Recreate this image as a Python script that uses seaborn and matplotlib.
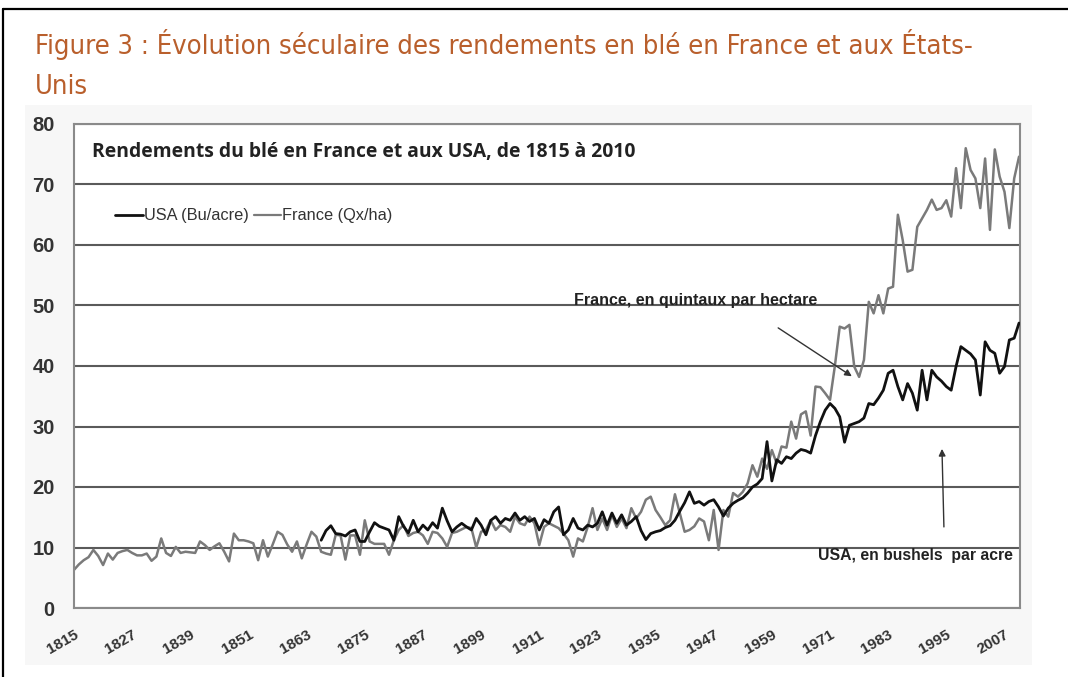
import numpy as np
import pandas as pd
import matplotlib
matplotlib.use("Agg")
import matplotlib.pyplot as plt
import seaborn as sns
from matplotlib.lines import Line2D
from matplotlib.patches import Rectangle

# ---------------- data ----------------
france_years = list(range(1815, 2011))
france_values = [
    6.3, 7.2, 7.9, 8.4, 9.6, 8.6, 7.1, 9.0, 8.0, 9.1,
    9.4, 9.6, 9.1, 8.7, 8.7, 9.0, 7.8, 8.5, 11.5, 9.1,
    8.6, 10.1, 9.1, 9.3, 9.2, 9.1, 11.0, 10.4, 9.6, 10.2,
    10.7, 9.3, 7.7, 12.3, 11.2, 11.2, 11.0, 10.7, 7.9, 11.2,
    8.5, 10.5, 12.6, 12.1, 10.5, 9.3, 11.0, 8.2, 10.5, 12.6,
    11.8, 9.3, 9.0, 8.8, 12.1, 12.0, 8.0, 12.0, 12.0, 8.8,
    14.5, 11.0, 10.6, 10.6, 10.6, 8.8, 11.2, 12.9, 13.7, 11.9,
    12.4, 12.6, 12.0, 10.6, 12.6, 12.4, 11.5, 10.1, 12.4, 12.6,
    13.0, 13.4, 13.2, 10.0, 12.6, 12.9, 14.5, 12.9, 13.7, 13.4,
    12.6, 15.1, 14.0, 13.7, 15.1, 14.0, 10.4, 13.4, 14.0, 13.6,
    13.2, 12.3, 11.2, 8.5, 11.5, 11.0, 13.4, 16.5, 12.9, 14.8,
    12.9, 15.4, 13.4, 14.8, 13.2, 16.5, 14.8, 15.9, 17.9, 18.4,
    16.2, 15.0, 13.7, 14.5, 18.8, 15.7, 12.6, 12.9, 13.5, 14.8,
    14.3, 11.2, 16.2, 9.6, 16.2, 15.1, 19.0, 18.4, 19.2, 20.6,
    23.6, 21.7, 24.7, 23.0, 26.1, 23.9, 26.7, 26.5, 30.8, 28.0,
    32.0, 32.5, 28.5, 36.6, 36.5, 35.5, 34.4, 40.0, 46.5, 46.2,
    46.8, 39.9, 38.2, 41.0, 50.6, 48.7, 51.7, 48.7, 52.8, 53.1,
    65.0, 60.8, 55.6, 55.9, 63.0, 64.4, 65.8, 67.5, 65.8, 66.1,
    67.4, 64.7, 72.7, 66.1, 76.0, 72.4, 71.0, 66.1, 74.3, 62.5,
    75.8, 71.3, 68.8, 62.8, 71.0, 74.6,
]

usa_years = list(range(1866, 2011))
usa_values = [
    11.2, 12.8, 13.6, 12.3,
    12.2, 11.9, 12.6, 12.9, 11.0, 11.0, 12.6, 14.1, 13.5, 13.2,
    12.9, 11.2, 15.1, 13.5, 12.4, 14.5, 12.6, 13.7, 12.9, 14.1,
    13.2, 16.5, 14.4, 12.6, 13.4, 14.0, 13.4, 12.9, 14.8, 13.7,
    12.1, 14.5, 15.1, 14.0, 14.8, 14.5, 15.7, 14.5, 15.1, 14.3,
    14.8, 12.9, 14.6, 14.0, 15.9, 16.7, 12.1, 12.9, 14.8, 13.2,
    12.9, 13.7, 13.4, 14.0, 15.9, 13.7, 15.7, 14.0, 15.4, 13.7,
    14.3, 15.1, 12.8, 11.3, 12.3, 12.6, 12.8, 13.3, 13.6, 14.5,
    16.0, 17.4, 19.2, 17.3, 17.6, 17.0, 17.6, 17.9, 16.7, 15.2,
    16.5, 17.3, 17.8, 18.2, 19.0, 20.0, 20.5, 21.4, 27.5, 21.0,
    24.5, 23.9, 25.0, 24.7, 25.6, 26.2, 26.0, 25.6, 28.5, 30.8,
    32.7, 33.8, 33.0, 31.6, 27.4, 30.2, 30.5, 30.8, 31.4, 33.8,
    33.6, 34.7, 36.0, 38.8, 39.3, 36.6, 34.4, 37.1, 35.5, 32.7,
    39.3, 34.4, 39.3, 38.2, 37.5, 36.6, 36.0, 39.9, 43.2, 42.6,
    42.0, 41.0, 35.2, 44.0, 42.6, 42.1, 38.8, 39.9, 44.3, 44.6,
    47.1,
]

series_names = ["USA (Bu/acre)", "France (Qx/ha)"]
tick_years = list(range(1815, 2008, 12))
y_ticks = [0, 10, 20, 30, 40, 50, 60, 70, 80]

title_text = "Figure 3 : Évolution séculaire des rendements en blé en France et aux États-\nUnis"
inner_title = "Rendements du blé en France et aux USA, de 1815 à 2010"
france_note = "France, en quintaux par hectare"
usa_note = "USA, en bushels  par acre"

# ---------------- frame ----------------
df = pd.concat([
    pd.DataFrame({"year": usa_years, "value": usa_values, "series": series_names[0]}),
    pd.DataFrame({"year": france_years, "value": france_values, "series": series_names[1]}),
])

sns.set_theme(style="white")
plt.rcParams["font.family"] = ["Liberation Sans", "DejaVu Sans"]

W, H = 1068, 677
fig = plt.figure(figsize=(W / 100, H / 100), dpi=100)
fig.patch.set_facecolor("white")

# outer frame (top and left edges visible)
fig.add_artist(Line2D([3 / W, 3 / W], [0, 1 - 9 / H], transform=fig.transFigure, color="black", lw=1.6))
fig.add_artist(Line2D([3 / W, 1], [1 - 9 / H, 1 - 9 / H], transform=fig.transFigure, color="black", lw=1.6))

# light grey image background
fig.add_artist(Rectangle((25 / W, 1 - 665 / H), (1032 - 25) / W, (665 - 105) / H,
                         transform=fig.transFigure, facecolor="#f7f7f7", edgecolor="none", zorder=0))

title_lines = title_text.split("\n")
fig.text(35 / W, 1 - 45 / H, title_lines[0], ha="left", va="center", fontsize=19.6,
         color="#b95f2c", family="DejaVu Sans", fontstretch="condensed")
fig.text(35 / W, 1 - 87 / H, title_lines[1], ha="left", va="center", fontsize=19.6,
         color="#b95f2c", family="DejaVu Sans", fontstretch="condensed")

ax = fig.add_axes([74 / W, 1 - 608 / H, (1020 - 74) / W, (608 - 124) / H])
ax.set_facecolor("white")

sns.lineplot(data=df, x="year", y="value", hue="series", hue_order=series_names,
             palette={series_names[0]: "#111111", series_names[1]: "#7a7a7a"},
             ax=ax, legend=False, estimator=None)
ax.lines[0].set_linewidth(2.0)
ax.lines[1].set_linewidth(1.8)
ax.lines[0].set_zorder(3)
ax.lines[1].set_zorder(2)

ax.set_xlim(1815, 2010.2)
ax.set_ylim(0, 80)
ax.set_yticks(y_ticks)
ax.set_xticks(tick_years)
ax.set_xticklabels([str(t) for t in tick_years], rotation=30, ha="right",
                   rotation_mode="anchor", fontsize=11, fontweight="bold", color="#333333")
ax.set_yticklabels([str(t) for t in y_ticks], fontsize=14.5, fontweight="bold", color="#333333")
ax.tick_params(axis="both", length=0)
ax.tick_params(axis="y", pad=14)
ax.tick_params(axis="x", pad=14)
ax.set_xlabel("")
ax.set_ylabel("")
ax.yaxis.grid(True, color="#5a5a5a", lw=1.5)
ax.xaxis.grid(False)
ax.set_axisbelow(True)
for s in ax.spines.values():
    s.set_color("#8a8a8a")
    s.set_linewidth(1.5)

ax.text(1818.8, 75.3, inner_title, fontsize=13.9, fontweight="bold", color="#222222",
        family=["Open Sans", "DejaVu Sans"], va="center", ha="left")

handles = [Line2D([0], [0], color="#111111", lw=2.0), Line2D([0], [0], color="#7a7a7a", lw=1.6)]
ax.legend(handles, series_names, loc="center left", bbox_to_anchor=(0.028, 0.81), ncol=2,
          frameon=False, handlelength=1.7, handletextpad=0.05, columnspacing=0.3,
          prop={"size": 11.8}, labelcolor="#333333")

ax.text(1918.2, 50.9, france_note, fontsize=11.5, fontweight="bold", color="#222222", va="center", ha="left")
ax.annotate("", xy=(1975.5, 38.3), xytext=(1960.3, 46.3),
            arrowprops=dict(arrowstyle="-|>", color="#333333", lw=1.0, mutation_scale=10, shrinkA=0, shrinkB=0))
ax.text(1968.5, 8.6, usa_note, fontsize=11.3, fontweight="bold", color="#222222", va="center", ha="left")
ax.annotate("", xy=(1994.1, 26.3), xytext=(1994.5, 13.4),
            arrowprops=dict(arrowstyle="-|>", color="#333333", lw=1.0, mutation_scale=10, shrinkA=0, shrinkB=0))

fig.savefig("out.png", dpi=100)
